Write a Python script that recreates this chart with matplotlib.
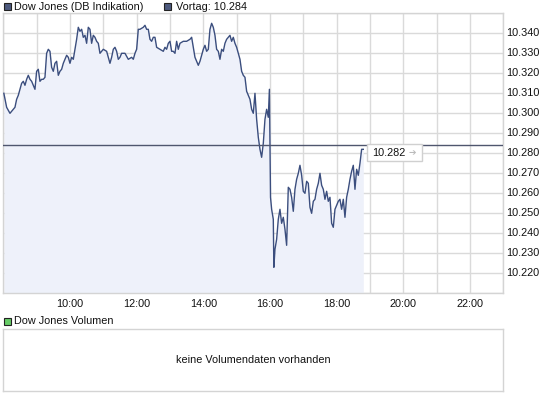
import matplotlib
matplotlib.use("Agg")
import matplotlib.pyplot as plt
from matplotlib.patches import Rectangle
import numpy as np

plt.rcParams['font.family'] = ['Liberation Sans', 'DejaVu Sans']

# minutes since 08:00
minutes = [1, 6, 12, 18, 21, 24, 27, 30, 33, 36, 39, 42, 45, 48, 51, 54, 57, 60, 63, 66,
           69, 72, 75, 78, 81, 84, 87, 90, 93, 96, 99, 102, 105, 108, 111, 114, 117, 120,
           123, 126, 129, 132, 135, 138, 141, 144, 147, 150, 153, 156, 159, 162, 165, 168,
           171, 174, 177, 180, 186, 189, 192, 195, 198, 201, 204, 207, 210, 213, 219, 225,
           231, 234, 237, 240, 243, 246, 252, 255, 258, 261, 264, 267, 270, 273, 276, 282,
           288, 291, 294, 297, 300, 303, 306, 309, 312, 315, 318, 324, 330, 336, 339, 342,
           345, 348, 351, 354, 357, 360, 363, 366, 369, 372, 375, 378, 381, 384, 387, 390,
           393, 396, 399, 402, 405, 408, 411, 414, 417, 420, 423, 426, 429, 432, 435, 438,
           441, 444, 447, 450, 453, 456, 459, 462, 465, 468, 471, 474, 477, 479, 480, 481,
           483, 486, 487, 489, 492, 495, 498, 501, 504, 507, 510, 513, 516, 519, 522, 525,
           528, 531, 534, 537, 540, 543, 546, 549, 552, 555, 558, 561, 564, 567, 570, 573,
           576, 579, 582, 585, 588, 591, 594, 597, 600, 603, 606, 609, 612, 615, 618, 621,
           624, 627, 630, 633, 636, 639, 642, 645, 648]
prices = [10.310, 10.303, 10.300, 10.302, 10.303, 10.307, 10.309, 10.312, 10.315, 10.316,
          10.314, 10.317, 10.319, 10.317, 10.316, 10.314, 10.312, 10.321, 10.322, 10.316,
          10.317, 10.317, 10.318, 10.330, 10.332, 10.331, 10.323, 10.321, 10.325, 10.326,
          10.319, 10.321, 10.322, 10.325, 10.327, 10.329, 10.328, 10.325, 10.328, 10.327,
          10.332, 10.337, 10.343, 10.341, 10.342, 10.338, 10.339, 10.335, 10.343, 10.342,
          10.335, 10.339, 10.338, 10.336, 10.335, 10.330, 10.331, 10.332, 10.331, 10.328,
          10.325, 10.328, 10.332, 10.333, 10.331, 10.327, 10.328, 10.330, 10.330, 10.327,
          10.328, 10.327, 10.330, 10.332, 10.342, 10.342, 10.343, 10.344, 10.342, 10.342,
          10.337, 10.336, 10.338, 10.338, 10.333, 10.332, 10.331, 10.333, 10.332, 10.335,
          10.336, 10.331, 10.331, 10.330, 10.336, 10.332, 10.335, 10.336, 10.336, 10.337,
          10.338, 10.333, 10.328, 10.326, 10.324, 10.326, 10.329, 10.332, 10.334, 10.331,
          10.332, 10.342, 10.345, 10.343, 10.339, 10.332, 10.331, 10.327, 10.332, 10.331,
          10.335, 10.337, 10.338, 10.339, 10.336, 10.338, 10.335, 10.333, 10.330, 10.327,
          10.321, 10.319, 10.318, 10.311, 10.309, 10.307, 10.302, 10.300, 10.310, 10.297,
          10.288, 10.282, 10.278, 10.285, 10.297, 10.302, 10.298, 10.312, 10.287, 10.258,
          10.252, 10.247, 10.223, 10.232, 10.237, 10.247, 10.252, 10.245, 10.248, 10.242,
          10.234, 10.263, 10.262, 10.258, 10.251, 10.262, 10.267, 10.270, 10.274, 10.269,
          10.261, 10.260, 10.266, 10.265, 10.253, 10.250, 10.256, 10.257, 10.262, 10.265,
          10.270, 10.264, 10.262, 10.257, 10.261, 10.256, 10.258, 10.245, 10.243, 10.252,
          10.254, 10.256, 10.257, 10.252, 10.257, 10.248, 10.258, 10.262, 10.267, 10.271,
          10.274, 10.262, 10.272, 10.269, 10.275, 10.282, 10.282]

prev_close = 10.284
last_price = 10.282
y_ticks = [10.220, 10.230, 10.240, 10.250, 10.260, 10.270, 10.280, 10.290,
           10.300, 10.310, 10.320, 10.330, 10.340]
x_tick_hours = [10, 12, 14, 16, 18, 20, 22]
x_tick_labels = ["10:00", "12:00", "14:00", "16:00", "18:00", "20:00", "22:00"]
title_main = "Dow Jones (DB Indikation)"
title_prev = "Vortag: 10.284"
title_vol = "Dow Jones Volumen"
no_vol_text = "keine Volumendaten vorhanden"

W, H = 545, 395
fig = plt.figure(figsize=(W / 100, H / 100), dpi=100)

def fx(px):
    return px / W

def fy(py):
    return 1 - py / H

L, R, T, B = 3.3, 503.3, 13.3, 293.3
ax = fig.add_axes([fx(L), fy(B), fx(R) - fx(L), fy(T) - fy(B)])

hours = 8 + np.array(minutes) / 60.0
line_col = '#3b4e7e'
grid_col = '#dadada'
ax.fill_between(hours, prices, 10.21, color='#eef1fa', lw=0, zorder=1)
ax.plot(hours, prices, color=line_col, lw=1.0, zorder=3)
ax.axhline(prev_close, color='#4f566e', lw=1.0, zorder=4)

ax.set_xlim(8, 23)
ax.set_ylim(10.21, 10.35)
ax.set_xticks(np.arange(8, 24, 1), minor=False)
ax.set_yticks(np.arange(10.21, 10.351, 0.01))
ax.grid(True, color=grid_col, lw=1.0, zorder=0)
ax.set_axisbelow(True)
ax.tick_params(length=0, labelbottom=False, labelleft=False)
for s in ax.spines.values():
    s.set_color('#d4d4d4')
    s.set_linewidth(1.0)

fs = 7.8
tc = '#111111'
for v in y_ticks:
    ax.text(1.006, (v - 10.21) / 0.14, f"{v:.3f}", transform=ax.transAxes,
            ha='left', va='center', fontsize=fs, color=tc)
for h, lab in zip(x_tick_hours, x_tick_labels):
    ax.text((h - 8) / 15, -0.038, lab, transform=ax.transAxes, ha='center', va='center',
            fontsize=fs, color=tc)

# last price box
fig.patches.append(Rectangle((fx(367.3), fy(161)), fx(421.7) - fx(367.3), fy(144) - fy(161),
                             transform=fig.transFigure, facecolor='white', edgecolor='#d0d0d0',
                             lw=1.0, zorder=5))
fig.text(fx(372), fy(153), f"{last_price:.3f}", ha='left', va='center', fontsize=fs,
         color=tc, zorder=7)
fig.text(fx(408), fy(152.5), "\u2794", ha='left', va='center', fontsize=6.5, color='#bbbbbb',
         family=['DejaVu Sans'], zorder=7)

# legend squares
def square(x, y, fc):
    fig.patches.append(Rectangle((fx(x), fy(y + 7)), fx(7), 7 / H, transform=fig.transFigure,
                                 facecolor=fc, edgecolor='#222222', lw=0.8))

square(3.5, 3, '#4d5a7e')
fig.text(fx(14), fy(7), title_main, ha='left', va='center', fontsize=fs, color=tc)
square(163.5, 3, '#4d5a7e')
fig.text(fx(176), fy(7), title_prev, ha='left', va='center', fontsize=fs, color=tc)

square(3.5, 317.5, '#66cc66')
fig.text(fx(14), fy(321), title_vol, ha='left', va='center', fontsize=fs, color=tc)

vax = fig.add_axes([fx(L), fy(390.5), fx(R) - fx(L), fy(328.7) - fy(390.5)])
vax.set_xticks([])
vax.set_yticks([])
for s in vax.spines.values():
    s.set_color('#d4d4d4')
    s.set_linewidth(1.0)
vax.text(0.5, 0.5, no_vol_text, transform=vax.transAxes, ha='center', va='center',
         fontsize=fs, color=tc)

fig.savefig("out.png", dpi=100)
